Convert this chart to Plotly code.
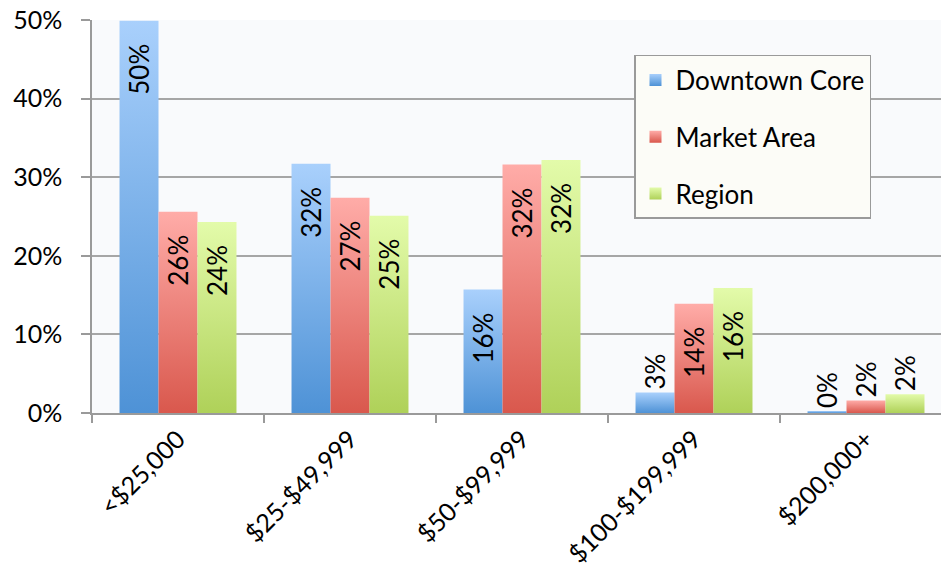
import plotly.graph_objects as go

categories = ["<$25,000", "$25-$49,999", "$50-$99,999", "$100-$199,999", "$200,000+"]
downtown = [49.9, 31.7, 15.7, 2.6, 0.2]
market = [25.6, 27.4, 31.6, 13.9, 1.6]
region = [24.3, 25.1, 32.2, 15.9, 2.4]
series_names = ["Downtown Core", "Market Area", "Region"]
colors = ["#7eb2ec", "#ee8983", "#cbe683"]
grad_top = ["#a9d0fc", "#ffaca8", "#e3fbaa"]
grad_bot = ["#4e92d6", "#d9584d", "#afd159"]

FONT = "Lato, 'Open Sans', sans-serif"
PAD = "\u00a0\u00a0\u00a0"

fig = go.Figure()
for i, (name, vals) in enumerate(zip(series_names, [downtown, market, region])):
    fig.add_trace(go.Bar(
        x=categories, y=vals, name=name,
        marker=dict(color=colors[i], line=dict(width=0)),
        texttemplate="%{y:.0f}%" + PAD, textposition="auto", textangle=-90,
        insidetextanchor="end", cliponaxis=False,
        textfont=dict(family=FONT, size=26, color="black"),
        insidetextfont=dict(family=FONT, size=26, color="black"),
        outsidetextfont=dict(family=FONT, size=26, color="black"),
        legendgroup=name,
    ))

fig.update_layout(
    width=941, height=575,
    margin=dict(l=92, r=0, t=20, b=162),
    paper_bgcolor="white", plot_bgcolor="#f9fafc",
    barmode="group", bargap=0.32, bargroupgap=0,
    font=dict(family=FONT, size=25, color="black"),
    uniformtext=dict(minsize=26, mode="show"),
    legend=dict(
        x=0.6384, y=0.911, xanchor="left", yanchor="top",
        bgcolor="#fcfcf7", bordercolor="#9a9a9a", borderwidth=1.5,
        font=dict(family=FONT, size=26, color="black"),
        tracegroupgap=20, itemsizing="constant",
    ),
    xaxis=dict(
        type="category", range=[-0.5, 4.436],
        tickson="boundaries", ticks="outside", ticklen=8, tickcolor="#9a9a9a", tickwidth=1.5,
        tickangle=-45, showline=True, linecolor="#9a9a9a", linewidth=1.5,
        showgrid=False, tickfont=dict(family=FONT, size=25, color="black"),
    ),
    yaxis=dict(
        range=[0, 50], dtick=10, ticksuffix="%",
        ticks="outside", ticklen=9, tickcolor="#9a9a9a", tickwidth=1.5,
        ticklabelstandoff=14,
        showline=True, linecolor="#9a9a9a", linewidth=1.5,
        showgrid=True, gridcolor="#a6a6a6", gridwidth=1.5, zeroline=False,
        tickfont=dict(family=FONT, size=25, color="black"),
    ),
)

post = """
document.body.style.margin = '0';
var gd = document.getElementById('{plot_id}');
var TOP = %s, BOT = %s;
function applyGrad() {
  var svg = gd.querySelector('svg.main-svg');
  if (!svg) return;
  var ns = 'http://www.w3.org/2000/svg';
  var defs = svg.querySelector('defs');
  if (!defs) { defs = document.createElementNS(ns, 'defs'); svg.insertBefore(defs, svg.firstChild); }
  for (var i = 0; i < TOP.length; i++) {
    var id = 'bargrad' + i;
    if (!document.getElementById(id)) {
      var g = document.createElementNS(ns, 'linearGradient');
      g.setAttribute('id', id);
      g.setAttribute('x1', '0'); g.setAttribute('y1', '0');
      g.setAttribute('x2', '0'); g.setAttribute('y2', '1');
      var s1 = document.createElementNS(ns, 'stop');
      s1.setAttribute('offset', '0'); s1.setAttribute('stop-color', TOP[i]);
      var s2 = document.createElementNS(ns, 'stop');
      s2.setAttribute('offset', '1'); s2.setAttribute('stop-color', BOT[i]);
      g.appendChild(s1); g.appendChild(s2); defs.appendChild(g);
    }
  }
  var traces = gd.querySelectorAll('.barlayer .trace.bars');
  traces.forEach(function(t, i) {
    t.querySelectorAll('.point path').forEach(function(p) { p.style.fill = 'url(#bargrad' + i + ')'; });
  });
  var lt = gd.querySelectorAll('.legend .traces');
  lt.forEach(function(t, i) {
    t.querySelectorAll('.legendpoints path').forEach(function(p) { p.style.fill = 'url(#bargrad' + i + ')'; });
  });
}
applyGrad();
gd.on('plotly_afterplot', applyGrad);
""" % (str(grad_top), str(grad_bot))

fig.write_html("out.html", post_script=post, config={"displayModeBar": False})
